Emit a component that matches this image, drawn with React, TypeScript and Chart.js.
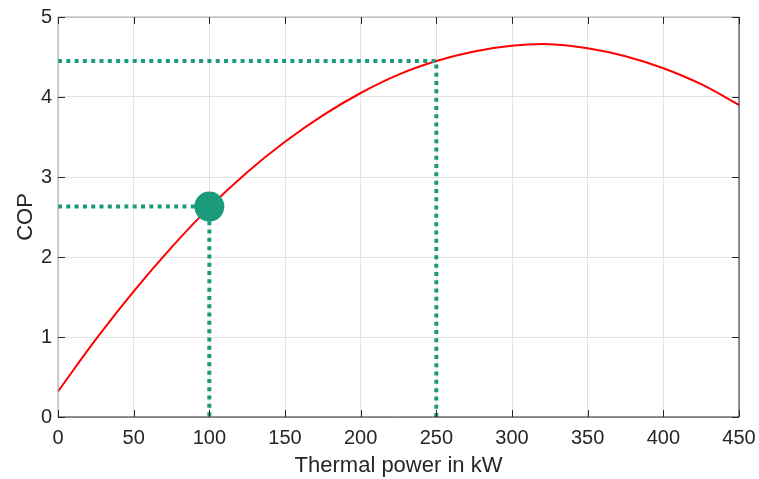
import React, { useEffect, useRef } from "react";
import { Chart, registerables } from "chart.js";

Chart.register(...registerables);

// Thermal power (kW) and COP
const powerKW = [0, 25, 50, 75, 100, 125, 150, 175, 200, 225, 250, 275, 300, 325, 350, 375, 400, 425, 450];
const cop = [0.32, 0.97, 1.57, 2.12, 2.62, 3.06, 3.44, 3.77, 4.05, 4.28, 4.45, 4.57, 4.64, 4.66, 4.61, 4.51, 4.36, 4.16, 3.9];

// Operating points
const pointA = { x: 100, y: 2.63 };
const pointB = { x: 250, y: 4.45 };

const xTicks = [0, 50, 100, 150, 200, 250, 300, 350, 400, 450];
const yTicks = [0, 1, 2, 3, 4, 5];

const GREEN = "#1a9b7c";
const RED = "#ff0000";
const DARK = "#262626";
const FONT = "'Liberation Sans', Arial, Helvetica, sans-serif";

const frame = {
  id: "frame",
  afterDraw(chart: any) {
    const { ctx, chartArea: a, scales } = chart;
    const xs = scales.x;
    const ys = scales.y;
    ctx.save();
    ctx.lineWidth = 1;
    ctx.strokeStyle = "#a6a6a6";
    ctx.beginPath();
    ctx.moveTo(a.left, a.bottom);
    ctx.lineTo(a.left, a.top);
    ctx.lineTo(a.right, a.top);
    ctx.stroke();
    ctx.strokeStyle = DARK;
    ctx.beginPath();
    ctx.moveTo(a.left, a.bottom);
    ctx.lineTo(a.right, a.bottom);
    ctx.lineTo(a.right, a.top);
    ctx.stroke();
    const tl = 7;
    ctx.beginPath();
    for (const v of xTicks) {
      const px = Math.round(xs.getPixelForValue(v)) + 0.5;
      ctx.moveTo(px, a.bottom);
      ctx.lineTo(px, a.bottom - tl);
      ctx.moveTo(px, a.top);
      ctx.lineTo(px, a.top + tl);
    }
    for (const v of yTicks) {
      const py = Math.round(ys.getPixelForValue(v)) + 0.5;
      ctx.moveTo(a.left, py);
      ctx.lineTo(a.left + tl, py);
      ctx.moveTo(a.right, py);
      ctx.lineTo(a.right - tl, py);
    }
    ctx.stroke();
    ctx.restore();
  },
};

export default function App() {
  const ref = useRef<HTMLCanvasElement | null>(null);

  useEffect(() => {
    if (!ref.current) return;
    const guide = (p: { x: number; y: number }) => ({
      type: "line" as const,
      data: [
        { x: 0, y: p.y },
        { x: p.x, y: p.y },
        { x: p.x, y: 0 },
      ],
      borderColor: GREEN,
      borderWidth: 4,
      borderDash: [4, 4.3],
      borderCapStyle: "butt" as const,
      pointRadius: 0,
      tension: 0,
      order: 1,
    });
    const chart = new Chart(ref.current, {
      type: "scatter",
      data: {
        datasets: [
          {
            type: "scatter",
            data: [pointA],
            pointRadius: 15,
            pointHoverRadius: 15,
            backgroundColor: GREEN,
            borderColor: GREEN,
            borderWidth: 0,
            order: 0,
          },
          guide(pointA),
          guide(pointB),
          {
            type: "line",
            data: powerKW.map((x, i) => ({ x, y: cop[i] })),
            borderColor: RED,
            borderWidth: 2,
            pointRadius: 0,
            tension: 0.4,
            order: 2,
          },
        ] as any,
      },
      options: {
        animation: false,
        responsive: true,
        maintainAspectRatio: false,
        layout: { padding: { left: 0, right: 20, top: 17, bottom: 0 } },
        plugins: { legend: { display: false }, tooltip: { enabled: false } },
        scales: {
          x: {
            type: "linear",
            min: 0,
            max: 450,
            afterBuildTicks: (s: any) => {
              s.ticks = xTicks.map((v) => ({ value: v }));
            },
            afterFit: (s: any) => {
              s.height = 62;
              s.paddingLeft = 0;
              s.paddingRight = 0;
            },
            ticks: {
              color: DARK,
              font: { family: FONT, size: 20 },
              padding: 9,
              maxRotation: 0,
            },
            grid: { color: "#e3e3e3", lineWidth: 1, drawTicks: false },
            border: { display: false },
            title: {
              display: true,
              text: "Thermal power in kW",
              color: DARK,
              font: { family: FONT, size: 22 },
              padding: { top: 0, bottom: 0 },
            },
          },
          y: {
            type: "linear",
            min: 0,
            max: 5,
            afterBuildTicks: (s: any) => {
              s.ticks = yTicks.map((v) => ({ value: v }));
            },
            afterFit: (s: any) => {
              s.width = 58;
              s.paddingTop = 0;
              s.paddingBottom = 0;
            },
            ticks: {
              color: DARK,
              font: { family: FONT, size: 20 },
              padding: 6,
            },
            grid: { color: "#e3e3e3", lineWidth: 1, drawTicks: false },
            border: { display: false },
            title: {
              display: true,
              text: "COP",
              color: DARK,
              font: { family: FONT, size: 22 },
              padding: { top: 13, bottom: 0 },
            },
          },
        },
      },
      plugins: [frame],
    });
    return () => chart.destroy();
  }, []);

  return (
    <div style={{ position: "fixed", left: 0, top: 0, width: 759, height: 479, background: "#fff" }}>
      <canvas ref={ref} />
    </div>
  );
}
